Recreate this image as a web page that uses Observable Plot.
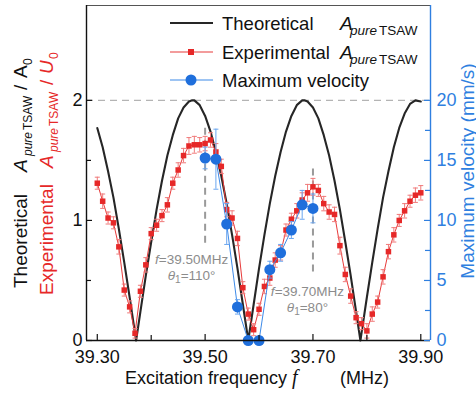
<!DOCTYPE html>
<html><head><meta charset="utf-8">
<script src="https://cdn.jsdelivr.net/npm/d3@7"></script>
<script src="https://cdn.jsdelivr.net/npm/@observablehq/plot@0.6"></script>
<style>html,body{margin:0;padding:0;background:#fff;} #chart{width:476px;height:397px;overflow:hidden;}</style>
</head><body><div id="chart"></div>
<script>
// ---------- data ----------
const theoF = [39.30,39.31,39.32,39.33,39.34,39.35,39.36,39.37,39.372,39.38,39.39,39.40,39.41,39.42,39.43,39.44,39.45,39.46,39.47,39.476,39.48,39.49,39.50,39.51,39.52,39.53,39.54,39.55,39.56,39.57,39.58,39.59,39.60,39.61,39.62,39.63,39.64,39.65,39.66,39.67,39.68,39.684,39.69,39.70,39.71,39.72,39.73,39.74,39.75,39.76,39.77,39.78,39.788,39.79,39.80,39.81,39.82,39.83,39.84,39.85,39.86,39.87,39.88,39.89,39.90];
const theoA = [1.77,1.61,1.41,1.19,0.93,0.65,0.36,0.06,0,0.24,0.54,0.82,1.09,1.33,1.54,1.71,1.85,1.94,1.99,2.0,2.0,1.96,1.87,1.74,1.57,1.37,1.14,0.88,0.60,0.30,0,0.30,0.60,0.88,1.14,1.37,1.57,1.74,1.87,1.96,2.0,2.0,1.99,1.94,1.85,1.71,1.54,1.33,1.09,0.82,0.54,0.24,0,0.06,0.36,0.65,0.93,1.19,1.41,1.61,1.77,1.89,1.97,2.0,1.99];

const expF = [39.30,39.31,39.32,39.33,39.34,39.35,39.36,39.37,39.38,39.39,39.40,39.41,39.42,39.43,39.44,39.45,39.46,39.47,39.48,39.49,39.50,39.51,39.52,39.53,39.54,39.55,39.56,39.57,39.58,39.59,39.60,39.61,39.62,39.63,39.64,39.65,39.66,39.67,39.68,39.69,39.70,39.71,39.72,39.73,39.74,39.75,39.76,39.77,39.78,39.79,39.80,39.81,39.82,39.83,39.84,39.85,39.86,39.87,39.88,39.89,39.90];
const expA = [1.31,1.16,1.02,0.98,0.78,0.42,0.28,0.06,0.41,0.63,0.89,0.96,1.04,1.13,1.31,1.42,1.54,1.62,1.63,1.63,1.64,1.67,1.57,1.45,1.09,1.02,0.85,0.44,0.22,0.09,0.26,0.45,0.52,0.67,0.73,0.92,1.01,1.08,1.17,1.23,1.28,1.25,1.14,1.07,1.05,0.79,0.55,0.37,0.19,0.14,0.08,0.22,0.32,0.53,0.74,0.88,1.00,1.08,1.16,1.21,1.23];
const expErr = [0.05,0.06,0.05,0.05,0.06,0.05,0.05,0.04,0.05,0.06,0.05,0.05,0.05,0.06,0.05,0.06,0.06,0.07,0.07,0.06,0.06,0.06,0.07,0.06,0.06,0.06,0.06,0.05,0.05,0.05,0.05,0.06,0.06,0.06,0.06,0.05,0.05,0.06,0.06,0.07,0.07,0.05,0.06,0.06,0.06,0.07,0.06,0.06,0.05,0.05,0.06,0.06,0.05,0.06,0.06,0.06,0.05,0.06,0.05,0.06,0.06];

const velF = [39.50,39.52,39.54,39.56,39.58,39.60,39.62,39.64,39.66,39.68,39.70];
const vel = [15.2,15.1,9.7,2.8,0,0,5.9,7.3,9.2,11.3,11.0];
const velErr = [0.9,2.5,1.7,0.6,0,0,0.7,0.7,0.7,1.2,1.2];

const markF = [39.50,39.70];
const markTop = [1.77,1.47];
const markBottom = [0.81,0.57];
const markFreqText = ["=39.50MHz","=39.70MHz"];
const markThetaText = ["=110°","=80°"];

const xTicks = [39.30,39.50,39.70,39.90];
const xMinor = [39.40,39.60,39.80];
const yTicks = [0,1,2];
const yMinor = [0.5,1.5];
const vTicks = [0,5,10,15,20];
const vMinor = [2.5,7.5,12.5,17.5];

const legendLabels = ["Theoretical","Experimental","Maximum velocity"];
const xTitle = ["Excitation frequency","f","(MHz)"];
const vTitle = "Maximum velocity (mm/s)";

// ---------- config ----------
const W = 476, H = 397;
const M = {left: 86, right: 46, top: 5, bottom: 57};
const xDomain = [39.28, 39.918];
const yDomain = [0, 2.79];
const V = 10; // mm/s per left-axis unit (20 mm/s <-> 2)
const FONT = "'Liberation Sans', Arial, sans-serif";
const SERIF = "'Liberation Serif', 'DejaVu Serif', serif";
const red = "#e62828", redLine = "#e83a3a", redErr = "#f07a7a";
const blue = "#1f6fdc", blueLine = "#3d8ae8", blueErr = "#6aa6f0", axisBlue = "#2f7fe0";
const frameW = W - M.left - M.right, frameH = H - M.top - M.bottom;

const theo = theoF.map((f, i) => ({f, a: theoA[i]}));
const exp = expF.map((f, i) => ({f, a: expA[i], e: expErr[i]}));
const velData = velF.map((f, i) => ({f, v: vel[i] / V, e: velErr[i] / V}));
const marks = markF.map((f, i) => ({f, top: markTop[i], bottom: markBottom[i]}));

const cap = {draw(ctx, size) { const w = Math.sqrt(size / Math.PI); ctx.moveTo(-w, 0); ctx.lineTo(w, 0); }};

const plot = Plot.plot({
  width: W, height: H,
  marginLeft: M.left, marginRight: M.right, marginTop: M.top, marginBottom: M.bottom,
  x: {domain: xDomain},
  y: {domain: yDomain},
  style: {fontFamily: FONT, background: "#fff", color: "#111"},
  marks: [
    Plot.ruleY([2], {y: d => d, stroke: "#b4b4b4", strokeWidth: 1.2, strokeDasharray: "7,5"}),
    Plot.ruleX(marks, {x: "f", y1: "bottom", y2: "top", stroke: "#9a9a9a", strokeWidth: 2, strokeDasharray: "7,5"}),
    Plot.line(theo, {x: "f", y: "a", stroke: "#262626", strokeWidth: 2.1}),
    Plot.line(exp, {x: "f", y: "a", stroke: redLine, strokeWidth: 1}),
    Plot.ruleX(exp, {x: "f", y1: d => d.a - d.e, y2: d => d.a + d.e, stroke: redErr, strokeWidth: 1}),
    Plot.dot(exp, {x: "f", y: d => d.a + d.e, symbol: cap, r: 2.5, stroke: redErr, strokeWidth: 1}),
    Plot.dot(exp, {x: "f", y: d => d.a - d.e, symbol: cap, r: 2.5, stroke: redErr, strokeWidth: 1}),
    Plot.dot(exp, {x: "f", y: "a", symbol: "square", r: 3.1, fill: red, stroke: "none"}),
    Plot.line(velData, {x: "f", y: "v", stroke: blueLine, strokeWidth: 1}),
    Plot.ruleX(velData.filter(d => d.e > 0), {x: "f", y1: d => d.v - d.e, y2: d => d.v + d.e, stroke: blueErr, strokeWidth: 1}),
    Plot.dot(velData.filter(d => d.e > 0), {x: "f", y: d => d.v + d.e, symbol: cap, r: 2.5, stroke: blueErr, strokeWidth: 1}),
    Plot.dot(velData.filter(d => d.e > 0), {x: "f", y: d => d.v - d.e, symbol: cap, r: 2.5, stroke: blueErr, strokeWidth: 1}),
    Plot.dot(velData, {x: "f", y: "v", r: 5.5, fill: blue, stroke: "none"}),
    // frame
    Plot.ruleY([yDomain[1]], {y: d => d, stroke: "#555", strokeWidth: 1.2}),
    Plot.ruleX([xDomain[1]], {x: d => d, stroke: axisBlue, strokeWidth: 1.4}),
    Plot.ruleY([yDomain[0]], {y: d => d, stroke: "#111", strokeWidth: 1.4}),
    Plot.ruleX([xDomain[0]], {x: d => d, stroke: "#111", strokeWidth: 1.4}),
    // inward ticks
    Plot.ruleY(yTicks, {y: d => d, insetRight: frameW - 6, stroke: "#111", strokeWidth: 1.2}),
    Plot.ruleY(yMinor, {y: d => d, insetRight: frameW - 5, stroke: "#111", strokeWidth: 1.2}),
    Plot.ruleY(vTicks.map(v => v / V), {y: d => d, insetLeft: frameW - 6, stroke: axisBlue, strokeWidth: 1.2}),
    Plot.ruleY(vMinor.map(v => v / V), {y: d => d, insetLeft: frameW - 5, stroke: axisBlue, strokeWidth: 1.2}),
    Plot.ruleX(xTicks, {x: d => d, insetTop: frameH - 6, stroke: "#111", strokeWidth: 1.2}),
    Plot.ruleX(xMinor, {x: d => d, insetTop: frameH - 5, stroke: "#111", strokeWidth: 1.2}),
    // axis labels
    Plot.axisX({ticks: xTicks, tickSize: 0, tickPadding: 10, tickFormat: d => d.toFixed(2), fontSize: 18, label: null, color: "#111"}),
    Plot.axisY({ticks: yTicks, tickSize: 0, tickPadding: 4, tickFormat: d => String(d), fontSize: 18, label: null, color: "#111"}),
    Plot.axisY({anchor: "right", ticks: vTicks.map(v => v / V), tickSize: 0, tickPadding: 6, tickFormat: d => String(Math.round(d * V)), fontSize: 18, label: null, color: axisBlue})
  ]
});

document.getElementById("chart").appendChild(plot);

// ---------- rich text (legend, titles, annotations) ----------
const svg = d3.select(plot);
const xs = plot.scale("x"), ys = plot.scale("y");

function rich(g, parts) {
  const t = g.append("text").attr("text-anchor", "start");
  parts.forEach(p => {
    const s = t.append("tspan").text(p.t);
    if (p.x !== undefined) s.attr("x", p.x);
    if (p.dy) s.attr("dy", p.dy);
    if (p.size) s.attr("font-size", p.size);
    if (p.italic) s.attr("font-style", "italic");
    if (p.family) s.attr("font-family", p.family);
  });
  return t;
}

// legend
const LG = {rows: [23, 52, 80], x1: 170, x2: 213, mx: 191, tx: 222, ax: 340};
const lg = svg.append("g").attr("font-family", FONT).attr("font-size", 18.5).attr("fill", "#111").attr("text-anchor", "start");
lg.append("line").attr("x1", LG.x1).attr("x2", LG.x2).attr("y1", LG.rows[0]).attr("y2", LG.rows[0]).attr("stroke", "#262626").attr("stroke-width", 2.1);
lg.append("line").attr("x1", LG.x1).attr("x2", LG.x2).attr("y1", LG.rows[1]).attr("y2", LG.rows[1]).attr("stroke", redLine).attr("stroke-width", 1.2);
lg.append("rect").attr("x", LG.mx - 3).attr("y", LG.rows[1] - 3).attr("width", 6).attr("height", 6).attr("fill", red);
lg.append("line").attr("x1", LG.x1).attr("x2", LG.x2).attr("y1", LG.rows[2]).attr("y2", LG.rows[2]).attr("stroke", blueLine).attr("stroke-width", 1.2);
lg.append("circle").attr("cx", LG.mx).attr("cy", LG.rows[2]).attr("r", 5.5).attr("fill", blue);
legendLabels.forEach((lab, i) => {
  const g = lg.append("g").attr("transform", `translate(0,${LG.rows[i] + 6.5})`);
  const parts = [{t: lab, x: LG.tx}];
  if (i < 2) parts.push({t: "A", x: LG.ax, italic: true, size: 19},
                        {t: "pure", x: LG.ax + 10, italic: true, size: 13.5, dy: 5},
                        {t: "TSAW", x: LG.ax + 39, size: 13.5});
  rich(g, parts);
});

// left titles (rotated)
const lt = svg.append("g").attr("font-family", FONT).attr("font-size", 19).attr("text-anchor", "start");
rich(lt.append("g").attr("transform", "translate(27,288) rotate(-90)").attr("fill", "#111"), [
  {t: "Theoretical", x: 0},
  {t: "A", x: 116, italic: true},
  {t: "pure", x: 132, italic: true, size: 12, dy: 5},
  {t: "TSAW", x: 158, size: 12},
  {t: "/", x: 198, dy: -5},
  {t: "A", x: 210},
  {t: "0", x: 223, size: 12, dy: 5}
]);
rich(lt.append("g").attr("transform", "translate(53,295) rotate(-90)").attr("fill", red), [
  {t: "Experimental", x: 0},
  {t: "A", x: 127, italic: true},
  {t: "pure", x: 143, italic: true, size: 12, dy: 5},
  {t: "TSAW", x: 169, size: 12},
  {t: "/", x: 210, dy: -5},
  {t: "U", x: 221, italic: true},
  {t: "0", x: 236, size: 12, dy: 5}
]);

// right title
svg.append("text").attr("transform", "translate(474,171) rotate(-90)")
  .attr("text-anchor", "middle").attr("font-family", FONT).attr("font-size", 19)
  .attr("fill", axisBlue).text(vTitle);

// x title
rich(svg.append("g").attr("font-family", FONT).attr("font-size", 18).attr("fill", "#111").attr("transform", "translate(0,384)"), [
  {t: xTitle[0], x: 125},
  {t: xTitle[1], x: 292, italic: true, family: SERIF, size: 20},
  {t: xTitle[2], x: 340}
]);

// annotations
const ANN = [{dx: -13, dy1: 21, dy2: 37}, {dx: -5, dy1: 24, dy2: 40}];
const ag = svg.append("g").attr("font-family", FONT).attr("font-size", 13.5).attr("fill", "#8c8c8c").attr("text-anchor", "middle");
markF.forEach((f, i) => {
  const cx = xs.apply(f) + ANN[i].dx, by = ys.apply(markBottom[i]);
  const t1 = ag.append("text").attr("x", cx).attr("y", by + ANN[i].dy1);
  t1.append("tspan").attr("font-style", "italic").text("f");
  t1.append("tspan").text(markFreqText[i]);
  const t2 = ag.append("text").attr("x", cx).attr("y", by + ANN[i].dy2);
  t2.append("tspan").attr("font-style", "italic").text("θ");
  t2.append("tspan").attr("font-size", 10).attr("dy", 3).text("1");
  t2.append("tspan").attr("dy", -3).text(markThetaText[i]);
});
</script>
</body></html>
